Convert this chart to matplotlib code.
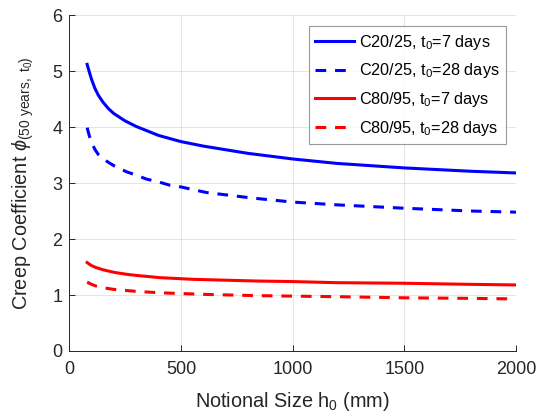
import matplotlib
matplotlib.use("Agg")
import matplotlib.pyplot as plt

# ---- data ----
h_c20_t7 = [80, 90, 100, 115, 130, 150, 175, 200, 250, 300, 400, 500, 600, 800, 1000, 1200, 1500, 1800, 2000]
phi_c20_t7 = [5.12, 4.98, 4.85, 4.69, 4.57, 4.45, 4.33, 4.24, 4.11, 4.01, 3.85, 3.74, 3.66, 3.53, 3.43, 3.35, 3.27, 3.21, 3.18]

h_c20_t28 = [80, 90, 100, 115, 130, 150, 175, 200, 257, 300, 346, 400, 451, 500, 615, 824, 1000, 1200, 1500, 1800, 2000]
phi_c20_t28 = [3.99, 3.84, 3.72, 3.60, 3.51, 3.44, 3.37, 3.31, 3.20, 3.14, 3.07, 3.02, 2.96, 2.93, 2.83, 2.73, 2.66, 2.61, 2.55, 2.50, 2.48]

h_c80_t7 = [80, 90, 100, 120, 152, 200, 257, 300, 406, 555, 839, 1000, 1200, 1500, 1800, 2000]
phi_c80_t7 = [1.58, 1.55, 1.525, 1.49, 1.45, 1.405, 1.37, 1.35, 1.31, 1.28, 1.25, 1.24, 1.22, 1.21, 1.19, 1.18]

h_c80_t28 = [80, 90, 100, 120, 152, 200, 257, 300, 406, 615, 824, 1000, 1200, 1500, 1800, 2000]
phi_c80_t28 = [1.23, 1.21, 1.19, 1.16, 1.13, 1.10, 1.08, 1.065, 1.04, 1.01, 0.99, 0.98, 0.97, 0.95, 0.94, 0.93]

labels = [r'C20/25, t$_0$=7 days', r'C20/25, t$_0$=28 days',
          r'C80/95, t$_0$=7 days', r'C80/95, t$_0$=28 days']

xticks = [0, 500, 1000, 1500, 2000]
yticks = [0, 1, 2, 3, 4, 5, 6]

# ---- style ----
plt.rcParams['font.family'] = ['Liberation Sans', 'DejaVu Sans']
plt.rcParams['mathtext.fontset'] = 'custom'
plt.rcParams['mathtext.rm'] = 'Liberation Sans'
plt.rcParams['mathtext.it'] = 'Liberation Sans:italic'
plt.rcParams['mathtext.bf'] = 'Liberation Sans:bold'
dark = (0.15, 0.15, 0.15)

fig = plt.figure(figsize=(5.41, 4.19), dpi=100)
ax = fig.add_axes([0.128, 0.1623, 0.826, 0.8017])

lw = 2.2
ax.plot(h_c20_t7, phi_c20_t7, color=(0, 0, 1), lw=lw, label=labels[0])
l2, = ax.plot(h_c20_t28, phi_c20_t28, color=(0, 0, 1), lw=lw, label=labels[1])
ax.plot(h_c80_t7, phi_c80_t7, color=(1, 0, 0), lw=lw, label=labels[2])
l4, = ax.plot(h_c80_t28, phi_c80_t28, color=(1, 0, 0), lw=lw, label=labels[3])
for l in (l2, l4):
    l.set_dashes((3.5, 2.9))
    l.set_dash_capstyle('butt')

ax.set_xlim(0, 2000)
ax.set_ylim(0, 6)
ax.set_xticks(xticks)
ax.set_yticks(yticks)
ax.grid(True, color=(0.88, 0.88, 0.88), lw=0.6)
ax.set_axisbelow(True)
for s in ('top', 'right'):
    ax.spines[s].set_visible(False)
for s in ('left', 'bottom'):
    ax.spines[s].set_color(dark)
    ax.spines[s].set_linewidth(0.7)
ax.tick_params(direction='in', length=4, width=0.7, colors=dark, labelsize=13)
ax.tick_params(axis='x', pad=7)
ax.tick_params(axis='y', pad=5)

ax.set_xlabel(r'Notional Size h$_0$ (mm)', fontsize=14.3, color=dark, labelpad=9)
ax.set_ylabel(r'Creep Coefficient $\phi_{\mathrm{(50\ years,\ t_0)}}$', fontsize=14.3, color=dark, labelpad=12)

leg = ax.legend(loc='upper right', bbox_to_anchor=(0.978, 0.967), borderaxespad=0,
                fontsize=11.7, frameon=True, fancybox=False, handlelength=2.4,
                handletextpad=0.3, labelspacing=0.6, borderpad=0.4)
leg.get_frame().set_edgecolor((0.5, 0.5, 0.5))
leg.get_frame().set_linewidth(0.8)
for t in leg.get_texts():
    t.set_color('black')

fig.savefig('out.png', dpi=100)
